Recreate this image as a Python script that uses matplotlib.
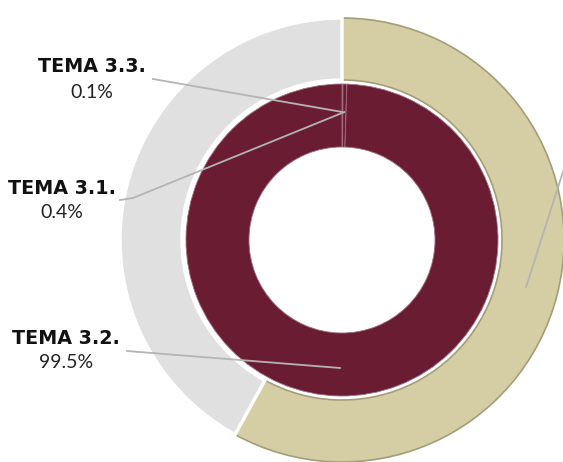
import numpy as np
import matplotlib
matplotlib.use("Agg")
import matplotlib.pyplot as plt
import matplotlib.patheffects as pe

# outer ring (no labels visible)
outer_values = [58, 42]
outer_colors = ['#d5cea5', '#e0e0e0']

# inner ring
temas = ['TEMA 3.3.', 'TEMA 3.1.', 'TEMA 3.2.']
shares = [0.1, 0.4, 99.5]
pct_labels = ['0.1%', '0.4%', '99.5%']
inner_color = '#6a1d32'

W, H = 563, 462
fig = plt.figure(figsize=(W / 100, H / 100), dpi=100)
ax = fig.add_axes([0, 0, 1, 1])

cx, cy = 342, H - 240
R_out, R_in, R_hole = 222, 156, 93

outer, _ = ax.pie(outer_values, colors=outer_colors, startangle=90, counterclock=False,
                  radius=R_out, center=(cx, cy),
                  wedgeprops=dict(width=R_out - R_in - 4, edgecolor='white', linewidth=2.5))
# bevel look on the beige part
outer[0].set_edgecolor('#a49e78')
outer[0].set_linewidth(1.2)
outer[0].set_path_effects([pe.withStroke(linewidth=4, foreground='white')])

inner, _ = ax.pie(shares, colors=[inner_color] * 3, startangle=90, counterclock=False,
                  radius=R_in, center=(cx, cy),
                  wedgeprops=dict(width=R_in - R_hole, edgecolor='#a07080', linewidth=0.6))

ax.set_xlim(0, W)
ax.set_ylim(0, H)
ax.set_aspect('equal')
ax.axis('off')

line_kw = dict(color='#b4b4b4', lw=1.3, zorder=5)

def anchor(w, r):
    ang = np.deg2rad((w.theta1 + w.theta2) / 2)
    return cx + r * np.cos(ang), cy + r * np.sin(ang)

# label layout (pixel positions, y from top)
label_pos = [(92, 67), (62, 188), (66, 338)]
line_start = [[(153, 79)], [(120, 200), (133, 198)], [(127, 351)]]

for w, t, p, (lx, ly), pts in zip(inner, temas, pct_labels, label_pos, line_start):
    ax_, ay_ = anchor(w, 128)
    xs = [q[0] for q in pts] + [ax_]
    ys = [H - q[1] for q in pts] + [ay_]
    ax.plot(xs, ys, **line_kw)
    ax.text(lx, H - ly, t, ha='center', va='center', fontsize=13.8,
            fontweight='bold', family='DejaVu Sans', color='#111111')
    ax.text(lx, H - ly - 25, p, ha='center', va='center', fontsize=14,
            fontweight='normal', family=['Lato', 'DejaVu Sans'], color='#222222')

# leader of the outer beige part, its label lies outside the picture
bx, by = anchor(outer[0], 190)
ax.plot([bx, bx + 40], [by, by + 125], **line_kw)

fig.savefig('out.png', dpi=100)
